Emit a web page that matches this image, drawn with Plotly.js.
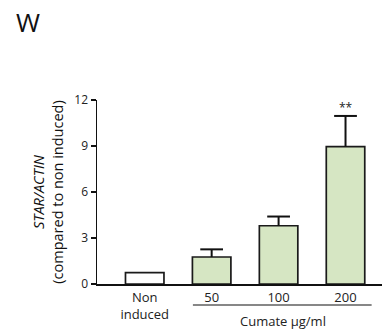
<!DOCTYPE html>
<html><head><meta charset="utf-8">
<script src="https://cdn.plot.ly/plotly-3.0.1.min.js"></script>
<style>html,body{margin:0;padding:0;background:#fff}#c{width:382px;height:330px}</style>
</head><body><div id="c"></div>
<script>
const categories = ["Non<br>induced", "50", "100", "200"];
const values = [0.74, 1.76, 3.8, 8.96];
const errorsUp = [0, 0.5, 0.6, 2.0];
const fillColors = ["#ffffff", "#d6e6c3", "#d6e6c3", "#d6e6c3"];
const yTicks = [0, 3, 6, 9, 12];
const significance = ["", "", "", "**"];
const groupLabel = "Cumate µg/ml";
const panelLabel = "W";

const xIdx = categories.map((_, i) => i);
const font = "Open Sans, Noto Sans, sans-serif";
const capHalf = 0.17;

// whisker path built from the data arrays (only upward error)
const ex = [], ey = [];
xIdx.forEach(i => {
  if (errorsUp[i] > 0) {
    const top = values[i] + errorsUp[i];
    ex.push(i, i, null, i - capHalf, i + capHalf, null);
    ey.push(values[i], top, null, top, top, null);
  }
});

const annotations = [];
xIdx.forEach(i => {
  if (significance[i]) annotations.push({
    x: i, y: values[i] + errorsUp[i], xref: 'x', yref: 'y', text: significance[i],
    showarrow: false, yanchor: 'bottom', yshift: -2, font: {family: font, size: 12, color: '#222'}
  });
});
annotations.push({x: 2.07, y: -0.2, xref: 'x', yref: 'paper', text: groupLabel, showarrow: false,
  yanchor: 'middle', font: {family: font, size: 13, color: '#222'}});
annotations.push({x: -69/285, y: 1 + 78/184, xref: 'paper', yref: 'paper', text: panelLabel,
  showarrow: false, xanchor: 'center', yanchor: 'middle', font: {family: font, size: 26, color: '#111'}});

const layout = {
  width: 382, height: 330,
  margin: {l: 97, r: 0, t: 100, b: 46},
  paper_bgcolor: '#fff', plot_bgcolor: '#fff',
  showlegend: false,
  bargap: 0.425,
  xaxis: {
    range: [-0.713, 3.545], tickmode: 'array', tickvals: xIdx, ticktext: categories,
    showline: true, linecolor: '#111', linewidth: 2, ticks: '', showgrid: false, zeroline: false,
    tickfont: {family: font, size: 13, color: '#222'}, fixedrange: true
  },
  yaxis: {
    range: [0, 12], tickmode: 'array', tickvals: yTicks,
    showline: true, linecolor: '#111', linewidth: 1.5, ticks: 'outside', ticklen: 5, tickwidth: 1.5, tickcolor: '#111',
    showgrid: false, zeroline: false,
    tickfont: {family: font, size: 12, color: '#222'},
    title: {text: '<i>STAR/ACTIN</i><br>(compared to non induced)', font: {family: font, size: 14.5, color: '#111'}, standoff: 7}
  },
  shapes: [{type: 'line', xref: 'x', yref: 'paper', x0: 0.72, x1: 3.39, y0: -0.114, y1: -0.114,
    line: {color: '#111', width: 1.2}}],
  annotations: annotations
};

Plotly.newPlot('c', [
  {type: 'bar', x: xIdx, y: values,
   marker: {color: fillColors, line: {color: '#1a1a1a', width: 1.7}}},
  {type: 'scatter', mode: 'lines', x: ex, y: ey, connectgaps: false, cliponaxis: false,
   line: {color: '#111', width: 2}, hoverinfo: 'skip'}
], layout, {staticPlot: true});
</script></body></html>
